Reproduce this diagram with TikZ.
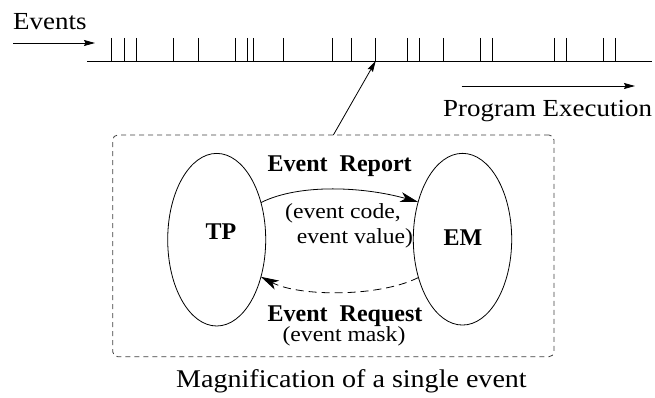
\documentclass[tikz,border=0pt]{standalone}
\usepackage{fontspec}
\setmainfont{Liberation Serif}[FakeStretch=1.1]
\newfontfamily\rolefont{Liberation Serif}[UprightFont=*-Bold]
\usetikzlibrary{shapes.geometric,arrows.meta}

\tikzset{
  thin line/.style={line width=0.8pt},
  big text/.style={inner sep=0pt, font=\fontsize{24.5}{28}\selectfont},
  role text/.style={inner sep=0pt, font=\fontsize{24}{28}\rolefont},
  note text/.style={inner sep=0pt, font=\fontsize{21.5}{25}\selectfont},
  agent/.style={draw, ellipse, thin line, outer sep=0pt, inner sep=0pt},
  small head/.style={-{Stealth[length=11pt,width=6pt,inset=1.5pt]}},
  big head/.style={-{Stealth[length=18pt,width=10pt,inset=5pt]}},
  magbox/.style={draw=black!75, thin line, dash pattern=on 5pt off 4pt,
    rounded corners=5pt, outer sep=0pt, inner sep=0pt}
}

\begin{document}
\begin{tikzpicture}[x=1pt,y=-1pt]
\useasboundingbox (0,0) rectangle (655,398);

% ---- event time line ----
\coordinate (tl0) at (87,61);
\coordinate (tl1) at (652,61);
\draw[thin line] (tl0) -- (tl1);
\foreach \t in {111.7,124.3,136.3,173,198,235,247,253.3,283.7,332.7,351.3,
                375.7,407,419,443.7,480.7,492.3,554.3,566.3,603,615.3}
  \draw[thin line] (\t,38) -- (\t,61);
\coordinate (hit) at (375.7,61);

% incoming events
\node[big text, anchor=base west] (events) at (13,30) {Events};
\coordinate (evs) at (13,43);
\coordinate (eve) at (95,43);
\draw[thin line, small head] (evs) -- (eve);

% direction of execution
\coordinate (pes) at (461.7,86);
\coordinate (pee) at (635,86);
\draw[thin line, small head] (pes) -- (pee);
\node[big text, anchor=base west] (progexec) at (443,116.7) {Program Execution};

% ---- magnified event ----
\node[magbox, minimum width=441.3pt, minimum height=221.7pt] (mag) at (333.35,245.85) {};
\draw[thin line, small head] (mag.north) -- (hit);

\node[agent, minimum width=98pt, minimum height=172.6pt] (tp) at (216.7,239.7) {};
\node[agent, minimum width=98.4pt, minimum height=171.7pt] (em) at (462.5,239.2) {};
\node[role text, anchor=base] (tplabel) at (221,239.3) {TP};
\node[role text, anchor=base] (emlabel) at (463,245) {EM};

% report: TP -> EM
\draw[thin line, big head] (tp.40) .. controls (300,183) and (365,187) .. (em.140);
\node[role text, anchor=base] (report) at (339.7,171.7) {Event\ \ Report};
\node[note text, anchor=base west] (reportcode) at (285,218.3) {(event code,};
\node[note text, anchor=base west] (reportvalue) at (296.7,243.3) {event value)};

% request: EM -> TP
\draw[thin line, big head, dash pattern=on 8pt off 5pt]
  (em.221) .. controls (380,297) and (300,297) .. (tp.-40);
\node[role text, anchor=base] (request) at (345,321) {Event\ \ Request};
\node[note text, anchor=base] (requestargs) at (344,341.5) {(event mask)};

\node[big text, font=\fontsize{25.5}{30}\selectfont, anchor=base] (caption) at (351.5,387)
  {Magnification of a single event};
\end{tikzpicture}
\end{document}
